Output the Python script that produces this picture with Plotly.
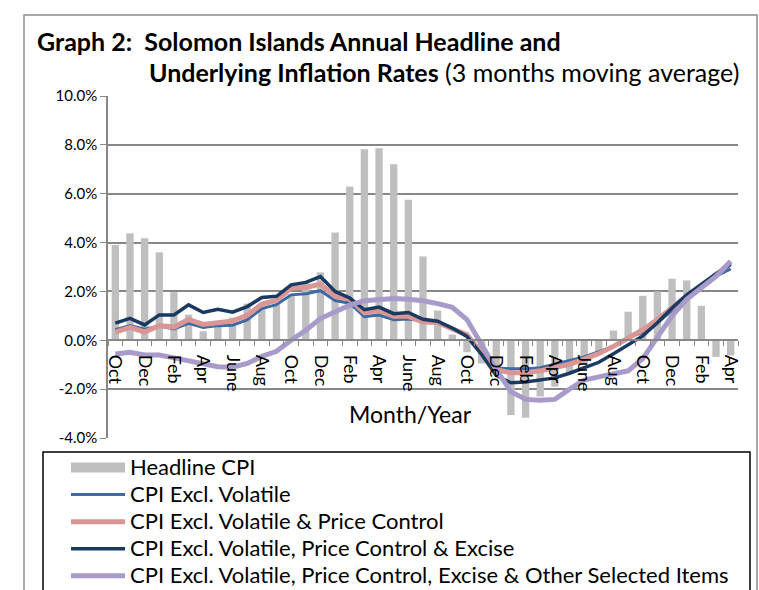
import plotly.graph_objects as go

months = ["Oct", "Nov", "Dec", "Jan", "Feb", "Mar", "Apr", "May", "June", "Jul", "Aug", "Sep"]
categories = [months[(i) % 12] for i in range(43)]
tick_labels = ["Oct", "Dec", "Feb", "Apr", "June", "Aug"] * 3 + ["Oct", "Dec", "Feb", "Apr"]
y_tick_vals = [-4, -2, 0, 2, 4, 6, 8, 10]
y_tick_labels = ["-4.0%", "-2.0%", "0.0%", "2.0%", "4.0%", "6.0%", "8.0%", "10.0%"]
series_names = ["Headline CPI",
                "CPI Excl. Volatile",
                "CPI Excl. Volatile & Price Control",
                "CPI Excl. Volatile, Price Control & Excise",
                "CPI Excl. Volatile, Price Control, Excise & Other Selected Items"]

headline = [3.9, 4.38, 4.18, 3.6, 1.97, 1.05, 0.37, 0.6, 0.93, 1.5, 1.27, 1.46, 1.88, 2.35, 2.78,
            4.41, 6.3, 7.82, 7.86, 7.21, 5.75, 3.43, 1.22, 0.23, -0.49, -0.95, -1.4, -3.06, -3.17,
            -2.3, -1.9, -1.3, -1.0, -0.6, 0.4, 1.17, 1.82, 2.0, 2.52, 2.45, 1.41, -0.68, -0.62]
excl_volatile = [0.43, 0.6, 0.45, 0.58, 0.46, 0.69, 0.52, 0.6, 0.62, 0.83, 1.3, 1.46, 1.86, 1.9, 2.03,
                 1.63, 1.52, 0.97, 1.03, 0.84, 0.87, 0.79, 0.73, 0.5, 0.25, -0.5, -1.13, -1.17, -1.17,
                 -1.12, -0.98, -0.82, -0.68, -0.47, -0.24, 0.1, 0.33, 0.72, 1.22, 1.8, 2.2, 2.62, 2.92]
excl_price_control = [0.33, 0.53, 0.34, 0.6, 0.54, 0.85, 0.65, 0.74, 0.79, 1.02, 1.48, 1.63, 2.14, 2.16, 2.3,
                      1.8, 1.69, 1.12, 1.22, 0.98, 0.98, 0.75, 0.73, 0.46, 0.23, -0.52, -1.2, -1.33, -1.33,
                      -1.25, -1.13, -0.98, -0.77, -0.54, -0.25, 0.1, 0.43, 0.85, 1.35, 1.81, 2.2, 2.7, 3.17]
excl_excise = [0.7, 0.9, 0.63, 1.04, 1.04, 1.45, 1.14, 1.27, 1.15, 1.38, 1.75, 1.8, 2.27, 2.37, 2.61,
               2.0, 1.73, 1.25, 1.36, 1.09, 1.14, 0.86, 0.78, 0.5, 0.16, -0.58, -1.44, -1.74, -1.71,
               -1.64, -1.54, -1.35, -1.12, -0.9, -0.55, -0.18, 0.18, 0.72, 1.32, 1.86, 2.28, 2.73, 3.1]
excl_other = [-0.56, -0.49, -0.6, -0.6, -0.72, -0.84, -0.99, -1.08, -1.1, -0.95, -0.66, -0.45, 0.0, 0.41, 0.89,
              1.16, 1.44, 1.62, 1.68, 1.71, 1.68, 1.62, 1.5, 1.35, 0.85, -0.18, -1.2, -2.1, -2.42,
              -2.45, -2.42, -2.0, -1.63, -1.5, -1.38, -1.25, -0.75, 0.15, 1.0, 1.68, 2.12, 2.62, 3.24]

x = list(range(len(categories)))
tick_vals = x[::2]

FONT = "Lato"
W, H = 759, 590
L, R, T, B = 108, 21, 96, 152
PW, PH = W - L - R, H - T - B


def px(xp):
    return (xp - L) / PW


def py(yp):
    return (H - B - yp) / PH


def legend_label(s):
    return "<span style='font-size:22px'>" + s + "</span>"


fig = go.Figure()
fig.add_trace(go.Bar(x=x, y=headline, name=series_names[0], marker_color="#BFBFBF",
                     marker_line_width=0, legendgroup="headline", showlegend=False))
# legend entry for the headline bars (wide grey swatch as in the original)
fig.add_trace(go.Scatter(x=[None], y=[None], name=legend_label(series_names[0]), mode="lines",
                         line=dict(color="#BFBFBF", width=10), legendgroup="headline",
                         hoverinfo="skip"))
fig.add_trace(go.Scatter(x=x, y=excl_volatile, name=legend_label(series_names[1]), mode="lines",
                         line=dict(color="#3D6AA3", width=3)))
fig.add_trace(go.Scatter(x=x, y=excl_price_control, name=legend_label(series_names[2]),
                         mode="lines", line=dict(color="#D99694", width=5)))
fig.add_trace(go.Scatter(x=x, y=excl_excise, name=legend_label(series_names[3]),
                         mode="lines", line=dict(color="#1B3A62", width=3.5)))
fig.add_trace(go.Scatter(x=x, y=excl_other, name=legend_label(series_names[4]),
                         mode="lines", line=dict(color="#A89BC9", width=5)))

grid = "#878787"
fig.update_layout(
    width=W, height=H,
    margin=dict(l=L, r=R, t=T, b=B, pad=0, autoexpand=False),
    paper_bgcolor="white", plot_bgcolor="white",
    font=dict(family=FONT, size=16, color="black"),
    bargap=0.5,
    showlegend=True,
    legend=dict(x=px(66), y=py(449), xanchor="left", yanchor="top",
                borderwidth=0, bgcolor="rgba(0,0,0,0)",
                font=dict(family=FONT, size=18.5), tracegroupgap=0, itemwidth=54,
                groupclick="togglegroup"),
    xaxis=dict(range=[-0.5, 42.5], tickmode="array", tickvals=tick_vals, ticktext=tick_labels,
               tickangle=90, ticks="", showgrid=False, zeroline=False,
               showline=True, linecolor=grid, linewidth=1.5,
               anchor="free", position=4 / 14, automargin=False, ticklabelstandoff=10,
               tickfont=dict(family=FONT, size=18),
               minor=dict(tickmode="linear", tick0=-0.5, dtick=1, ticks="outside",
                          ticklen=5, tickcolor=grid, tickwidth=1.2, showgrid=False)),
    yaxis=dict(range=[-4, 10], tickmode="array", tickvals=y_tick_vals, ticktext=y_tick_labels,
               showgrid=True, gridcolor=grid, gridwidth=1.5, zeroline=False,
               showline=True, linecolor=grid, linewidth=1.5, automargin=False,
               ticks="outside", ticklen=6, tickcolor=grid,
               tickfont=dict(family=FONT, size=15)),
    shapes=[dict(type="rect", xref="paper", yref="paper",
                 x0=px(24), x1=px(757), y0=py(600), y1=py(15),
                 line=dict(color="#8C8C8C", width=1.5), fillcolor="rgba(0,0,0,0)", layer="below"),
            dict(type="rect", xref="paper", yref="paper",
                 x0=px(43), x1=px(750), y0=py(600), y1=py(452),
                 line=dict(color="black", width=1.5), fillcolor="white", layer="above")],
    annotations=[
        dict(text="<b>Graph 2:&nbsp; Solomon Islands Annual Headline and</b>",
             xref="paper", yref="paper", x=px(35), y=py(41), xanchor="left", yanchor="middle",
             showarrow=False, font=dict(family=FONT, size=25)),
        dict(text="<b>Underlying Inflation Rates</b> (3 months moving average)",
             xref="paper", yref="paper", x=px(147), y=py(72), xanchor="left", yanchor="middle",
             showarrow=False, font=dict(family=FONT, size=25)),
        dict(text="Month/Year", xref="paper", yref="paper", x=px(410), y=py(414),
             xanchor="center", yanchor="middle", showarrow=False,
             font=dict(family=FONT, size=23)),
    ],
)

fig.write_html("out.html", config={"displayModeBar": False},
               post_script="document.body.style.margin='0px';document.body.style.overflow='hidden';")
